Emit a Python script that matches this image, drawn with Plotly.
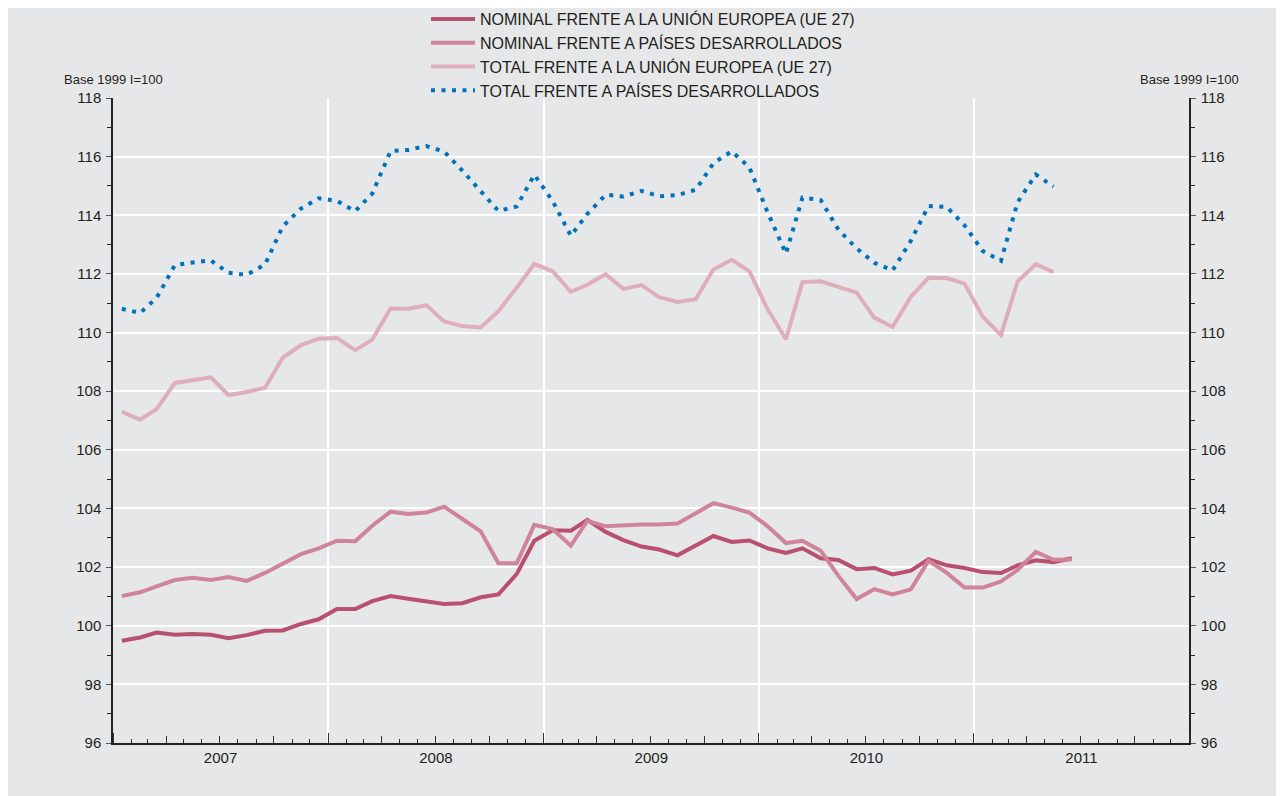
import pandas as pd
import plotly.graph_objects as go

# ---- data (monthly, starting Jan 2007) ----
nominal_ue = [99.49, 99.60, 99.77, 99.69, 99.72, 99.69, 99.57, 99.68, 99.83, 99.84, 100.06, 100.22,
              100.57, 100.57, 100.84, 101.01, 100.92, 100.84, 100.74, 100.77, 100.97, 101.07, 101.76, 102.90,
              103.26, 103.24, 103.61, 103.20, 102.92, 102.70, 102.60, 102.40, 102.73, 103.06, 102.86, 102.91,
              102.64, 102.48, 102.64, 102.30, 102.24, 101.93, 101.97, 101.75, 101.88, 102.27, 102.06, 101.97,
              101.83, 101.80, 102.06, 102.23, 102.17, 102.30]
nominal_pd = [101.01, 101.14, 101.34, 101.56, 101.64, 101.56, 101.66, 101.53, 101.80, 102.13, 102.44, 102.64,
              102.90, 102.88, 103.41, 103.89, 103.81, 103.86, 104.06, 103.64, 103.22, 102.13, 102.13, 103.44,
              103.30, 102.73, 103.58, 103.39, 103.43, 103.45, 103.45, 103.49, 103.84, 104.18, 104.03, 103.86,
              103.39, 102.82, 102.90, 102.56, 101.70, 100.91, 101.25, 101.07, 101.24, 102.22, 101.80, 101.30,
              101.30, 101.51, 101.90, 102.52, 102.25, 102.26]
total_ue = [107.30, 107.03, 107.39, 108.28, 108.37, 108.47, 107.87, 107.97, 108.12, 109.14, 109.57, 109.79,
            109.81, 109.40, 109.76, 110.82, 110.81, 110.93, 110.38, 110.22, 110.17, 110.73, 111.53, 112.34,
            112.09, 111.39, 111.63, 111.99, 111.49, 111.62, 111.21, 111.04, 111.14, 112.15, 112.48, 112.09,
            110.79, 109.77, 111.72, 111.75, 111.56, 111.36, 110.51, 110.19, 111.22, 111.87, 111.86, 111.67,
            110.54, 109.92, 111.74, 112.33, 112.06]
total_pd = [110.81, 110.67, 111.18, 112.30, 112.39, 112.46, 112.04, 111.97, 112.32, 113.62, 114.23, 114.58,
            114.49, 114.14, 114.74, 116.19, 116.23, 116.36, 116.17, 115.52, 114.82, 114.15, 114.30, 115.38,
            114.49, 113.30, 114.05, 114.70, 114.64, 114.83, 114.65, 114.69, 114.87, 115.78, 116.18, 115.63,
            114.10, 112.69, 114.60, 114.52, 113.51, 112.87, 112.38, 112.12, 113.13, 114.32, 114.28, 113.66,
            112.78, 112.45, 114.44, 115.39, 114.98]

names = ["NOMINAL FRENTE A LA UNIÓN EUROPEA (UE 27)",
         "NOMINAL FRENTE A PAÍSES DESARROLLADOS",
         "TOTAL FRENTE A LA UNIÓN EUROPEA (UE 27)",
         "TOTAL FRENTE A PAÍSES DESARROLLADOS"]
series = [nominal_ue, nominal_pd, total_ue, total_pd]
colors = ["#B8506E", "#CF8499", "#DEAEBA", "#0072BC"]
dashes = ["solid", "solid", "solid", "4px,6.5px"]

start_month = "2007-01-01"
def months(n):
    return pd.date_range(start_month, periods=n, freq="MS") + pd.Timedelta(days=15)

FONT = "Liberation Sans, Arial, Helvetica, sans-serif"
TXT = "#231F20"
BG = "#E6E7E9"

fig = go.Figure()
for name, vals, col, dash in zip(names, series, colors, dashes):
    fig.add_trace(go.Scatter(x=months(len(vals)), y=vals, name=name, mode="lines",
                             line=dict(color=col, width=4, dash=dash)))

# invisible traces to activate helper axes
fig.add_trace(go.Scatter(x=[], y=[], xaxis="x2", yaxis="y", showlegend=False, hoverinfo="skip"))
fig.add_trace(go.Scatter(x=[], y=[], xaxis="x", yaxis="y2", showlegend=False, hoverinfo="skip"))

xr = ["2007-01-01", "2012-01-01"]
yr = [96, 118]

fig.update_layout(
    width=1284, height=796,
    margin=dict(l=105, r=103, t=90, b=61, autoexpand=False),
    paper_bgcolor=BG,
    plot_bgcolor=BG,
    font=dict(family=FONT, size=15, color=TXT),
    showlegend=True,
    legend=dict(x=0.2909, y=1.1488, xanchor="left", yanchor="top",
                bgcolor="rgba(0,0,0,0)", font=dict(size=16, color=TXT),
                tracegroupgap=0, itemwidth=44),
    xaxis=dict(type="date", range=xr, tick0="2007-01-01", dtick="M12",
               ticklabelmode="period", tickformat="%Y",
               ticks="inside", ticklen=10, tickwidth=1.3, tickcolor="#333",
               showgrid=True, gridcolor="white", gridwidth=2,
               showline=True, linecolor="#222", linewidth=1.5,
               minor=dict(dtick="M1", ticks="inside", ticklen=4, tickcolor="#333", showgrid=False),
               tickfont=dict(size=15, color=TXT), zeroline=False),
    xaxis2=dict(type="date", range=xr, overlaying="x", anchor="y", side="bottom",
                tick0="2007-01-01", dtick="M3", ticks="inside", ticklen=7, tickcolor="#333",
                showticklabels=False, showgrid=False, showline=False, zeroline=False),
    yaxis=dict(range=yr, tick0=96, dtick=2, ticks="outside", ticklen=5, tickcolor="#555",
               showgrid=True, gridcolor="white", gridwidth=2,
               showline=True, linecolor="#222", linewidth=1.5, zeroline=False,
               minor=dict(dtick=1, ticks="outside", ticklen=4, tickcolor="#222", showgrid=False),
               tickfont=dict(size=15, color=TXT), ticklabelstandoff=2),
    yaxis2=dict(range=yr, overlaying="y", side="right", anchor="x", tick0=96, dtick=2,
                ticks="outside", ticklen=5, tickcolor="#555",
                showgrid=False, showline=True, linecolor="#222", linewidth=1.5, zeroline=False,
                minor=dict(dtick=1, ticks="outside", ticklen=4, tickcolor="#222"),
                tickfont=dict(size=15, color=TXT), ticklabelstandoff=2),
    annotations=[
        dict(text="Base 1999 I=100", xref="paper", yref="paper", x=0, y=1.028,
             xanchor="center", yanchor="middle", showarrow=False, font=dict(size=13, color=TXT)),
        dict(text="Base 1999 I=100", xref="paper", yref="paper", x=1, y=1.028,
             xanchor="center", yanchor="middle", showarrow=False, font=dict(size=13, color=TXT)),
    ],
)

fig.write_html("out.html")
